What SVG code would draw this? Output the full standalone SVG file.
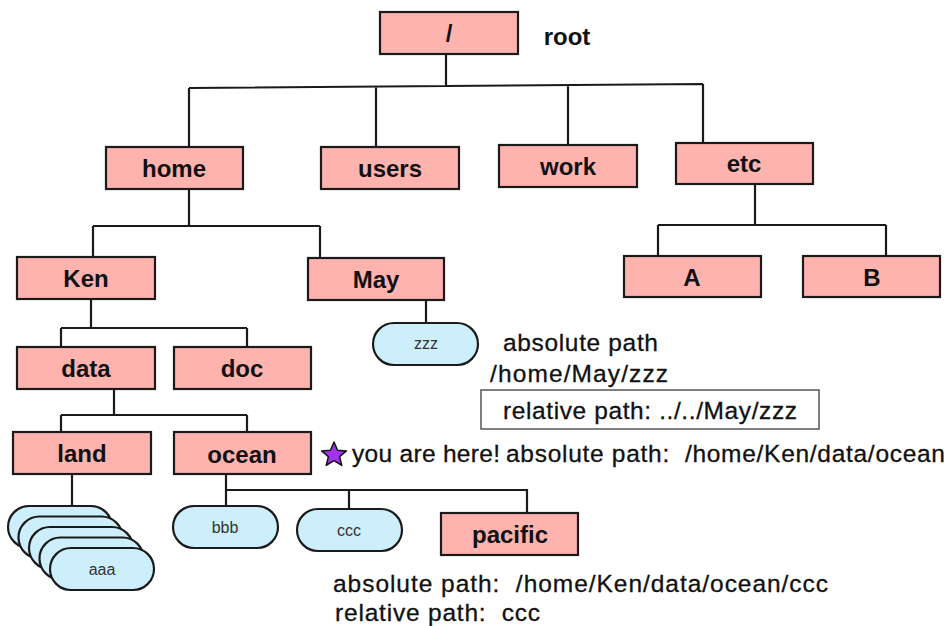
<svg xmlns="http://www.w3.org/2000/svg" width="952" height="626" viewBox="0 0 952 626">
  <style>
    .dir { fill: #ffb3ae; stroke: #1a1a1a; stroke-width: 2.2; }
    .file { fill: #cdeffc; stroke: #1a1a1a; stroke-width: 2.2; }
    .dlabel { font-family: "Liberation Sans", Arial, sans-serif; font-weight: bold; font-size: 24px; fill: #111; text-anchor: middle; }
    .flabel { font-family: "Liberation Sans", Arial, sans-serif; font-size: 16px; fill: #333; text-anchor: middle; }
    .note { font-family: "Liberation Sans", Arial, sans-serif; font-size: 24.5px; fill: #111; stroke: #111; stroke-width: 0.3; }
    .link { fill: none; stroke: #1a1a1a; stroke-width: 2.2; }
  </style>
  <rect width="952" height="626" fill="#ffffff"/>

  <!-- tree connectors -->
  <g id="connectors" class="link">
    <path d="M446 54 V87 M189 88 L703 84 M189 88 V147 M376 86 V147 M568 85 V145 M703 84 V143"/>
    <path d="M189 189 V226 M93 226 H320 M93 226 V257 M320 226 V258"/>
    <path d="M426 300 V323"/>
    <path d="M755 184 V225 M658 225 H886 M658 225 V256 M886 225 V256"/>
    <path d="M91 299 V328 M61 328 H247 M61 328 V347 M247 328 V347"/>
    <path d="M114 389 V415 M61 415 H247 M61 415 V432 M247 415 V432"/>
    <path d="M72 474 V506"/>
    <path d="M226 474 V490 H527 V513 M226 490 V506 M349 490 V509"/>
  </g>

  <!-- directories -->
  <g id="root"><rect class="dir" x="380" y="12" width="138" height="42"/><text class="dlabel" x="449" y="42">/</text></g>
  <text class="dlabel" x="567" y="45">root</text>
  <g id="home"><rect class="dir" x="106" y="147" width="137" height="42"/><text class="dlabel" x="174" y="177">home</text></g>
  <g id="users"><rect class="dir" x="321" y="147" width="138" height="42"/><text class="dlabel" x="390" y="177">users</text></g>
  <g id="work"><rect class="dir" x="499" y="145" width="138" height="42"/><text class="dlabel" x="568" y="175">work</text></g>
  <g id="etc"><rect class="dir" x="676" y="143" width="137" height="41"/><text class="dlabel" x="744" y="172">etc</text></g>
  <g id="ken"><rect class="dir" x="17" y="257" width="138" height="42"/><text class="dlabel" x="86" y="287">Ken</text></g>
  <g id="may"><rect class="dir" x="308" y="258" width="136" height="42"/><text class="dlabel" x="376" y="288">May</text></g>
  <g id="a"><rect class="dir" x="624" y="256" width="137" height="41"/><text class="dlabel" x="692" y="286">A</text></g>
  <g id="b"><rect class="dir" x="803" y="256" width="137" height="41"/><text class="dlabel" x="872" y="286">B</text></g>
  <g id="data"><rect class="dir" x="17" y="347" width="138" height="42"/><text class="dlabel" x="86" y="377">data</text></g>
  <g id="doc"><rect class="dir" x="174" y="347" width="137" height="42"/><text class="dlabel" x="242" y="377">doc</text></g>
  <g id="land"><rect class="dir" x="13" y="432" width="138" height="42"/><text class="dlabel" x="82" y="462">land</text></g>
  <g id="ocean"><rect class="dir" x="174" y="432" width="137" height="42"/><text class="dlabel" x="242" y="463">ocean</text></g>
  <g id="pacific"><rect class="dir" x="441" y="513" width="137" height="42"/><text class="dlabel" x="510" y="543">pacific</text></g>

  <!-- files -->
  <g id="zzz"><rect class="file" x="373" y="323" width="105" height="42" rx="21"/><text class="flabel" x="426" y="349">zzz</text></g>
  <g id="bbb"><rect class="file" x="173" y="506" width="105" height="42" rx="21"/><text class="flabel" x="225" y="533">bbb</text></g>
  <g id="ccc"><rect class="file" x="297" y="509" width="105" height="42" rx="21"/><text class="flabel" x="349" y="536">ccc</text></g>
  <g id="aaa">
    <rect class="file" x="8" y="506" width="104" height="42" rx="21"/>
    <rect class="file" x="18.5" y="516.5" width="104" height="42" rx="21"/>
    <rect class="file" x="29" y="527" width="104" height="42" rx="21"/>
    <rect class="file" x="39.5" y="537.5" width="104" height="42" rx="21"/>
    <rect class="file" x="50" y="548" width="104" height="42" rx="21"/>
    <text class="flabel" x="102" y="575">aaa</text>
  </g>

  <!-- path notes -->
  <g id="may-notes">
    <text class="note" x="503" y="351" textLength="155">absolute path</text>
    <text class="note" x="490" y="382" textLength="178">/home/May/zzz</text>
    <rect x="481" y="390" width="338" height="39" fill="#ffffff" stroke="#555" stroke-width="1.5"/>
    <text class="note" x="503" y="419" textLength="294">relative path: ../../May/zzz</text>
  </g>
  <g id="here">
    <polygon points="334,442 337.5,450.2 346.4,450.9 339.6,456.7 341.8,465.4 334,460.7 326.2,465.4 328.4,456.7 321.6,450.9 330.5,450.2" fill="#a233ee" stroke="#111" stroke-width="1.5" stroke-linejoin="round"/>
    <text class="note" x="352" y="462" textLength="148">you are here!</text>
    <text class="note" x="506" y="462" textLength="439" xml:space="preserve">absolute path:  /home/Ken/data/ocean</text>
  </g>
  <g id="ccc-notes">
    <text class="note" x="333" y="592" textLength="495" xml:space="preserve">absolute path:  /home/Ken/data/ocean/ccc</text>
    <text class="note" x="335" y="621" textLength="205" xml:space="preserve">relative path:  ccc</text>
  </g>
</svg>
